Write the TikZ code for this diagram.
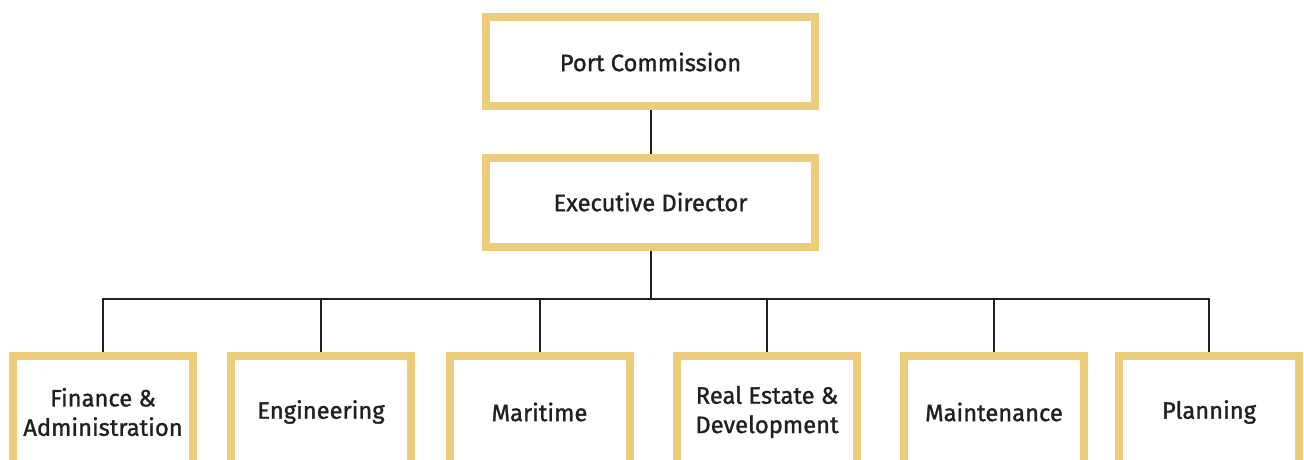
\documentclass[tikz,border=0pt]{standalone}
\usepackage{fontspec}
\setmainfont{Fira Sans}
\newfontfamily\orgfont{Fira Sans}[FakeBold=1.2]
\usepackage{xcolor}
\usepackage{tikz}
\definecolor{boxgold}{RGB}{237,205,122}
\definecolor{inkgray}{RGB}{35,31,32}

\begin{document}
\begin{tikzpicture}[x=0.75pt, y=-0.75pt,
  orgbox/.style={draw=boxgold, line width=6pt, fill=white, text=inkgray,
    font=\orgfont\fontsize{17.8}{22}\selectfont, align=center},
  topbox/.style={orgbox, minimum width=329*0.75pt, minimum height=89*0.75pt},
  unitbox/.style={orgbox, minimum width=180*0.75pt, minimum height=113*0.75pt},
  link/.style={draw=inkgray, line width=1.5pt}]
  \useasboundingbox (0,0) rectangle (1304,460);
  \clip (0,0) rectangle (1304,460);
  \node[topbox] (pc) at (650.5,62) {Port Commission};
  \node[topbox] (ed) at (650.5,202) {Executive Director};
  \node[unitbox] (fin) at (103,412) {Finance \&\\Administration};
  \node[unitbox] (eng) at (321,412) {Engineering};
  \node[unitbox] (mar) at (539.5,412) {Maritime};
  \node[unitbox] (red) at (767,412) {Real Estate \&\\Development};
  \node[unitbox] (mnt) at (994,412) {Maintenance};
  \node[unitbox] (pln) at (1209,412) {Planning};
  \coordinate (bar) at (650.5,299);
  \draw[link] (pc.south) -- (ed.north);
  \draw[link] (ed.south) -- (bar);
  \foreach \u in {fin,eng,mar,red,mnt,pln}
    \draw[link] (bar) -| (\u.north);
\end{tikzpicture}
\end{document}
